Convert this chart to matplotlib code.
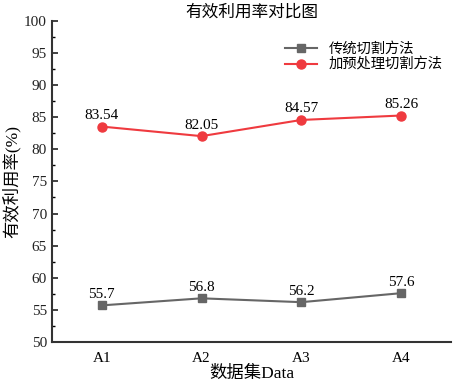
import matplotlib.pyplot as plt
from matplotlib.ticker import MultipleLocator

plt.rcParams['font.family'] = ['Liberation Serif', 'Noto Sans CJK SC']

# data
datasets = ["A1", "A2", "A3", "A4"]
traditional = [55.7, 56.8, 56.2, 57.6]
preprocessed = [83.54, 82.05, 84.57, 85.26]
traditional_labels = ["55.7", "56.8", "56.2", "57.6"]
preprocessed_labels = ["83.54", "82.05", "84.57", "85.26"]

gray = "#666666"
red = "#ef3a3f"

fig = plt.figure(figsize=(4.55, 3.86), dpi=100)
ax = fig.add_axes([0.114, 0.114, 0.877, 0.832])

x = list(range(1, len(datasets) + 1))
ax.plot(x, traditional, color=gray, marker="s", markersize=6, linewidth=1.5,
        label="传统切割方法")
ax.plot(x, preprocessed, color=red, marker="o", markersize=6.5, linewidth=1.5,
        label="加预处理切割方法")

for xi, v, s in zip(x, traditional, traditional_labels):
    ax.annotate(s, (xi, v), xytext=(0, 8), textcoords="offset points",
                ha="center", va="center", fontsize=11)
for xi, v, s in zip(x, preprocessed, preprocessed_labels):
    ax.annotate(s, (xi, v), xytext=(0, 8), textcoords="offset points",
                ha="center", va="center", fontsize=11)

ax.set_xlim(0.5, 4.5)
ax.set_ylim(50, 100)
ax.set_xticks(x)
ax.set_xticklabels(datasets)
ax.yaxis.set_major_locator(MultipleLocator(5))
ax.yaxis.set_minor_locator(MultipleLocator(2.5))
ax.tick_params(axis="y", which="major", direction="in", length=4, width=1.2,
               labelsize=11, colors="#222222")
ax.tick_params(axis="y", which="minor", direction="in", length=2.5, width=1.0)
ax.tick_params(axis="x", length=0, labelsize=11, pad=7)

for side in ["top", "right"]:
    ax.spines[side].set_visible(False)
for side in ["left", "bottom"]:
    ax.spines[side].set_linewidth(1.5)
    ax.spines[side].set_color("#333333")

ax.set_title("有效利用率对比图", fontsize=12, pad=3)
ax.set_xlabel("数据集Data", fontsize=12.5, labelpad=1)
ax.set_ylabel("有效利用率(%)", fontsize=12.5)
ax.yaxis.set_label_coords(-0.078, 0.5)

ax.legend(loc="upper right", bbox_to_anchor=(1.0, 0.96), frameon=False,
          fontsize=10.3, handlelength=2.2, borderaxespad=0.2, labelspacing=0.1)

fig.savefig("out.png", dpi=100)
